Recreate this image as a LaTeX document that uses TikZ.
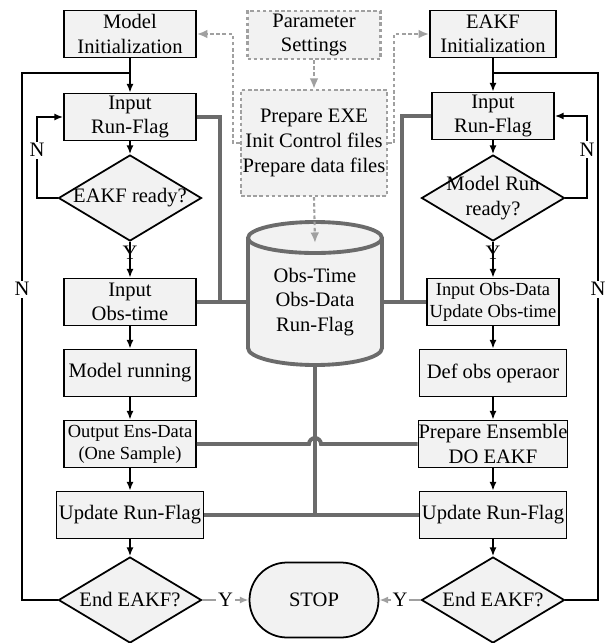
\documentclass[tikz,border=0pt]{standalone}
\usepackage{fontspec}
\setmainfont{Liberation Serif}
\usepackage{tikz}
\usetikzlibrary{arrows.meta,shapes.geometric,shapes.misc,positioning,calc}
\usepackage{xcolor}

\definecolor{boxfill}{HTML}{F2F2F2}
\definecolor{busgray}{HTML}{6B6B6B}
\definecolor{dashgray}{HTML}{A0A0A0}

\begin{document}
\begin{tikzpicture}[
    x=0.02cm, y=-0.02cm,
    every node/.style={
        font=\fontsize{11.7}{14}\selectfont,
        align=center,
        inner sep=0pt
    },
    procbox/.style={rectangle, draw, fill=boxfill, line width=1pt,
        minimum width=2.64cm, minimum height=0.94cm},
    setbox/.style={rectangle, draw=dashgray, fill=boxfill, line width=1.2pt,
        dash pattern=on 2pt off 1.5pt},
    decide/.style={diamond, draw, fill=boxfill, line width=1pt,
        minimum width=2.86cm, minimum height=1.72cm},
    smalltext/.style={font=\fontsize{10.5}{12.5}\selectfont},
    flow/.style={draw, line width=0.9pt, -{Latex[length=5pt,width=4pt]}},
    backline/.style={draw, line width=0.9pt},
    bus/.style={draw=busgray, line width=2.2pt},
    setflow/.style={draw=dashgray, line width=1.2pt, dash pattern=on 2pt off 1.5pt,
        -{Latex[length=6pt,width=5pt]}},
    stopflow/.style={draw=dashgray, line width=1pt, -{Latex[length=5pt,width=4pt]}},
    flag/.style={fill=white, inner sep=1pt}
]
\useasboundingbox (0,0) rectangle (605,643);

% shared data store
\draw[draw=busgray, fill=boxfill, line width=2.2pt] (248,238)
    arc[start angle=180, end angle=0, x radius=1.34cm, y radius=0.32cm] -- (382,348)
    arc[start angle=0, end angle=-180, x radius=1.34cm, y radius=0.34cm] -- cycle;
\draw[draw=busgray, line width=2.2pt] (248,238)
    arc[start angle=180, end angle=360, x radius=1.34cm, y radius=0.3cm];
\node[minimum width=2.68cm] (db) at (315,302) {Obs-Time\\Obs-Data\\Run-Flag};
\coordinate (dbt) at (315,243);
\coordinate (dbb) at (315,365);

% setup
\node[setbox, minimum width=2.66cm, minimum height=0.96cm] (ps) at (314,35) {Parameter\\Settings};
\node[setbox, minimum width=2.92cm, minimum height=2.12cm] (prep) at (314,143)
    {Prepare EXE\\Init Control files\\Prepare data files};

% model side
\node[procbox] (mi) at (130,34) {Model\\Initialization};
\node[procbox] (li1) at (130,117) {Input\\Run-Flag};
\node[decide, label={center:EAKF ready?}] (ld1) at (130,198) {};
\node[procbox] (lo1) at (130,302) {Input\\Obs-time};
\node[procbox] (lm) at (130,373) {Model running};
\node[procbox, smalltext] (lo2) at (130,444) {Output Ens-Data\\(One Sample)};
\node[procbox, minimum width=2.94cm] (lu) at (130,515) {Update Run-Flag};
\node[decide, label={center:End EAKF?}] (le) at (130,600) {};

% EAKF side
\node[procbox, minimum width=2.52cm] (ei) at (493,34) {EAKF\\Initialization};
\node[procbox, minimum width=2.44cm] (ri1) at (493,116) {Input\\Run-Flag};
\node[decide, label={center:Model Run\\ready?}] (rd1) at (493,198) {};
\node[procbox, smalltext] (ri2) at (493,302) {Input Obs-Data\\Update Obs-time};
\node[procbox, minimum width=2.94cm] (rdef) at (493,373) {Def obs operaor};
\node[procbox, minimum width=2.94cm] (rens) at (493,444) {Prepare Ensemble\\DO EAKF};
\node[procbox, minimum width=2.94cm] (ru) at (493,515) {Update Run-Flag};
\node[decide, label={center:End EAKF?}] (re) at (493,600) {};

\node[rounded rectangle, draw, fill=boxfill, line width=1pt,
    minimum width=2.58cm, minimum height=1.5cm] (stop) at (314,600) {STOP};

% dashed setup flow
\draw[setflow] (ps) -- (prep);
\draw[setflow] (prep.west) -- (233,143) -- (233,34) -- (mi.east);
\draw[setflow] (prep.east) -- (394,143) -- (394,34) -- (ei.west);
\draw[setflow] (prep.south) -- (dbt);

% model flow
\coordinate (lj) at (130,73);
\draw[flow] (mi) -- (li1);
\draw[flow] (li1) -- (ld1);
\draw[flow] (ld1.west) -- (37,198) -- node[flag,pos=0.59]{N} (37,117) -- (li1.west);
\draw[flow] (ld1) -- node[pos=0.3]{Y} (lo1);
\draw[flow] (lo1) -- (lm);
\draw[flow] (lm) -- (lo2);
\draw[flow] (lo2) -- (lu);
\draw[flow] (lu) -- (le);
\draw[backline] (le.west) -- (22,600) -- node[flag,pos=0.59]{N} (22,73) -- (lj);
\draw[stopflow] (le.east) -- node[flag]{Y} (stop.west);

% EAKF flow
\coordinate (rj) at (493,73);
\draw[flow] (ei) -- (ri1);
\draw[flow] (ri1) -- (rd1);
\draw[flow] (rd1.east) -- (587,198) -- node[flag,pos=0.59]{N} (587,116) -- (ri1.east);
\draw[flow] (rd1) -- node[pos=0.3]{Y} (ri2);
\draw[flow] (ri2) -- (rdef);
\draw[flow] (rdef) -- (rens);
\draw[flow] (rens) -- (ru);
\draw[flow] (ru) -- (re);
\draw[backline] (re.east) -- (598,600) -- node[flag,pos=0.59]{N} (598,73) -- (rj);
\draw[stopflow] (re.west) -- node[flag]{Y} (stop.east);

% data bus
\draw[bus] (li1.east) -- (220,117) -- (220,302);
\draw[bus] (lo1.east) -- (db.west);
\draw[bus] (ri1.west) -- (402,116) -- (402,302);
\draw[bus] (db.east) -- (ri2.west);
\draw[bus] (dbb) -- (315,515);
\draw[bus] (lo2.east) -- (309,444) arc[start angle=180, end angle=0, radius=0.12cm] -- (rens.west);
\draw[bus] (lu.east) -- (ru.west);

\end{tikzpicture}
\end{document}
